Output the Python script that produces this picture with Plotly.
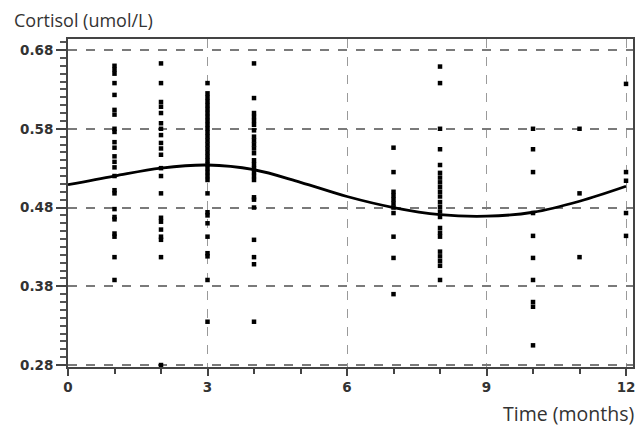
import plotly.graph_objects as go

# Observed cortisol values per month (umol/L)
m1 = [0.660, 0.655, 0.650, 0.638, 0.623, 0.604, 0.598, 0.580, 0.576, 0.563, 0.556, 0.545,
      0.538, 0.531, 0.520, 0.502, 0.498, 0.478, 0.468, 0.465, 0.447, 0.443, 0.417, 0.388]
m2 = [0.663, 0.638, 0.614, 0.608, 0.600, 0.587, 0.580, 0.572, 0.562, 0.555, 0.547, 0.530,
      0.520, 0.498, 0.467, 0.462, 0.452, 0.443, 0.439, 0.417, 0.280]
m3 = [0.638, 0.625, 0.620, 0.615, 0.610, 0.605, 0.600, 0.595, 0.590, 0.585, 0.580, 0.575,
      0.570, 0.565, 0.560, 0.555, 0.550, 0.545, 0.540, 0.535, 0.530, 0.525, 0.520, 0.515,
      0.498, 0.474, 0.470, 0.460, 0.443, 0.422, 0.418, 0.388, 0.335]
m4 = [0.663, 0.619, 0.600, 0.595, 0.590, 0.585, 0.578, 0.570, 0.565, 0.560, 0.555, 0.549,
      0.540, 0.535, 0.530, 0.525, 0.520, 0.515, 0.493, 0.490, 0.480, 0.439, 0.417, 0.408, 0.335]
m7 = [0.556, 0.525, 0.500, 0.495, 0.490, 0.485, 0.480, 0.473, 0.443, 0.416, 0.370]
m8 = [0.659, 0.638, 0.580, 0.554, 0.534, 0.524, 0.518, 0.512, 0.506, 0.500, 0.494, 0.487,
      0.481, 0.475, 0.468, 0.454, 0.448, 0.443, 0.424, 0.418, 0.412, 0.406, 0.388]
m10 = [0.580, 0.554, 0.525, 0.473, 0.444, 0.416, 0.388, 0.360, 0.354, 0.305]
m11 = [0.580, 0.498, 0.417]
m12 = [0.637, 0.525, 0.514, 0.473, 0.444]

months = [1, 2, 3, 4, 7, 8, 10, 11, 12]
groups = [m1, m2, m3, m4, m7, m8, m10, m11, m12]

# Fitted curve
curve_t = [0, 1, 2, 3, 4, 5, 6, 7, 8, 9, 10, 11, 12]
curve_v = [0.509, 0.520, 0.530, 0.534, 0.528, 0.512, 0.494, 0.480, 0.471, 0.469, 0.474, 0.488, 0.507]

x_ticks = [0, 3, 6, 9, 12]
y_ticks = [0.28, 0.38, 0.48, 0.58, 0.68]

xs, ys = [], []
for m, g in zip(months, groups):
    xs += [m] * len(g)
    ys += g

fig = go.Figure()
fig.add_trace(go.Scatter(
    x=xs, y=ys, mode="markers",
    marker=dict(symbol="square", size=4.5, color="black", line=dict(width=0)),
    showlegend=False, hoverinfo="x+y"))
fig.add_trace(go.Scatter(
    x=curve_t, y=curve_v, mode="lines", line=dict(color="black", width=2.8, shape="spline"),
    showlegend=False))

tickfont = dict(family="DejaVu Sans", size=13.5, color="#333333", weight="bold")

fig.update_layout(
    width=642, height=426,
    margin=dict(l=68, r=9, t=39, b=59, autoexpand=False),
    paper_bgcolor="white", plot_bgcolor="white",
    xaxis=dict(
        range=[0, 12.15], tickvals=x_ticks, ticktext=[str(v) for v in x_ticks],
        showgrid=True, gridcolor="#9a9a9a", gridwidth=1, griddash="dash",
        showline=True, linecolor="#444444", linewidth=2, mirror=True,
        ticks="outside", ticklen=7, tickcolor="#444444", tickwidth=1.5,
        minor=dict(dtick=1, tick0=0, ticks="outside", ticklen=5, tickcolor="#444444", showgrid=False),
        tickfont=tickfont, zeroline=False, fixedrange=True, automargin=False,
    ),
    yaxis=dict(
        range=[0.2775, 0.694], tickvals=y_ticks, ticktext=[f"{v:.2f}" for v in y_ticks],
        showgrid=True, gridcolor="#7a7a7a", gridwidth=1.5, griddash="dash",
        showline=True, linecolor="#444444", linewidth=2, mirror=True,
        ticks="outside", ticklen=10, tickcolor="#444444", tickwidth=1.5,
        minor=dict(dtick=0.01, tick0=0.28, ticks="outside", ticklen=6, tickcolor="#555555", showgrid=False),
        tickfont=tickfont, zeroline=False, fixedrange=True, automargin=False,
    ),
    annotations=[
        dict(text="Cortisol (umol/L)", xref="paper", yref="paper", x=0, y=1.0,
             xshift=-56, yshift=19, xanchor="left", yanchor="middle", showarrow=False,
             font=dict(family="Open Sans", size=18, color="#333333")),
        dict(text="Time (months)", xref="paper", yref="paper", x=1.0, y=0,
             yshift=-46, xshift=3, xanchor="right", yanchor="middle", showarrow=False,
             font=dict(family="Open Sans", size=19.5, color="#333333")),
    ],
)

fig.write_html("out.html", config={"displayModeBar": False},
               post_script="document.body.style.margin='0px';")
